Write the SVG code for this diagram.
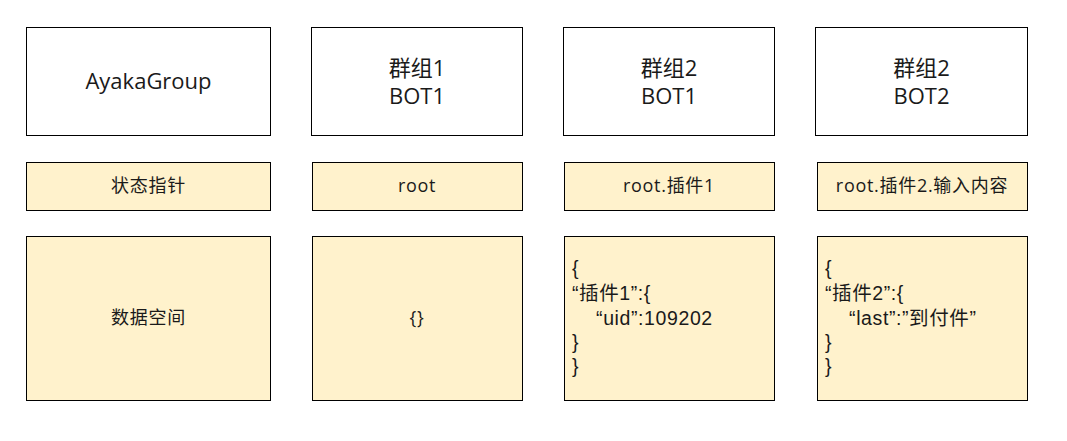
<svg xmlns="http://www.w3.org/2000/svg" width="1067" height="441" viewBox="0 0 1067 441">
<style>
.b{stroke:#000;stroke-width:1}
.w{fill:#fff}
.y{fill:#fff2cc}
text{font-family:"Open Sans","Noto Sans CJK SC",sans-serif;fill:#1a1a1a}
.big{font-size:22px;text-anchor:middle}
.sm{font-size:18px;text-anchor:middle;letter-spacing:0.7px}
.js{font-size:19.5px;letter-spacing:0.6px;font-family:"Liberation Sans","Noto Sans CJK SC",sans-serif}
</style>
<rect x="0" y="0" width="1067" height="441" fill="#fff"/>
<g id="n-ayaka"><rect class="b w" x="26.5" y="27.5" width="244" height="108"/><text class="big" x="148.5" y="89">AyakaGroup</text></g>
<g id="n-g1b1"><rect class="b w" x="311.5" y="27.5" width="211" height="108"/><text class="big" x="417" y="76">群组1</text><text class="big" x="417" y="104">BOT1</text></g>
<g id="n-g2b1"><rect class="b w" x="563.5" y="27.5" width="211" height="108"/><text class="big" x="669" y="76">群组2</text><text class="big" x="669" y="104">BOT1</text></g>
<g id="n-g2b2"><rect class="b w" x="815.5" y="27.5" width="212" height="108"/><text class="big" x="921.5" y="76">群组2</text><text class="big" x="921.5" y="104">BOT2</text></g>

<g id="n-ptr"><rect class="b y" x="26.5" y="162.5" width="244" height="48"/><text class="sm" x="148.5" y="192">状态指针</text></g>
<g id="n-root"><rect class="b y" x="312.5" y="162.5" width="210" height="48"/><text class="sm" x="417" y="192">root</text></g>
<g id="n-root1"><rect class="b y" x="564.5" y="162.5" width="210" height="48"/><text class="sm" x="669" y="192">root.插件1</text></g>
<g id="n-root2"><rect class="b y" x="817.5" y="162.5" width="210" height="48"/><text class="sm" x="922" y="192">root.插件2.输入内容</text></g>

<g id="n-space"><rect class="b y" x="26.5" y="236.5" width="244" height="164"/><text class="sm" x="148.5" y="324">数据空间</text></g>
<g id="n-empty"><rect class="b y" x="312.5" y="236.5" width="210" height="164"/><text class="sm" x="417" y="324">{}</text></g>
<g id="n-json1"><rect class="b y" x="564.5" y="236.5" width="210" height="164"/>
<text class="js" x="572" y="275">{</text>
<text class="js" x="572" y="300">“插件1”:{</text>
<text class="js" x="572" y="325" xml:space="preserve">    “uid”:109202</text>
<text class="js" x="572" y="349">}</text>
<text class="js" x="572" y="373">}</text></g>
<g id="n-json2"><rect class="b y" x="817.5" y="236.5" width="210" height="164"/>
<text class="js" x="825" y="275">{</text>
<text class="js" x="825" y="300">“插件2”:{</text>
<text class="js" x="825" y="325" xml:space="preserve">    “last”:”到付件”</text>
<text class="js" x="825" y="349">}</text>
<text class="js" x="825" y="373">}</text></g>
<g id="connectors"></g>
</svg>
